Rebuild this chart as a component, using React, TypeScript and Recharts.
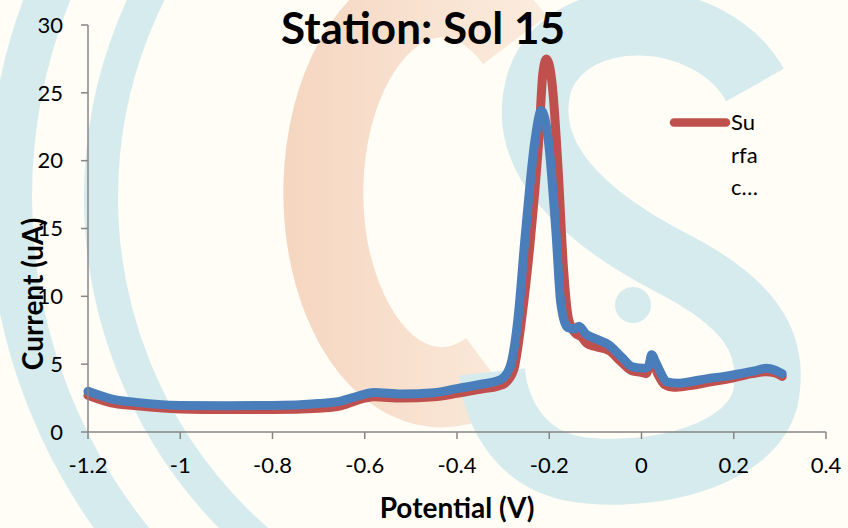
import { Line, LineChart, XAxis, YAxis } from 'recharts';

// Potential (V) / current (uA)
const surfacePotential = [
  -1.2, -1.15, -1.1, -1.0, -0.9, -0.8, -0.7, -0.65, -0.6, -0.58, -0.52, -0.45, -0.4, -0.35, -0.31,
  -0.297, -0.277, -0.26, -0.24, -0.222, -0.214, -0.206, -0.193, -0.181, -0.169, -0.158, -0.144,
  -0.13, -0.119, -0.1, -0.07, -0.045, -0.02, 0.0, 0.01, 0.022, 0.035, 0.05, 0.07, 0.1, 0.15, 0.2,
  0.24, 0.27, 0.29, 0.305,
];
const surfaceCurrent = [
  2.7, 2.15, 1.95, 1.7, 1.65, 1.65, 1.75, 1.95, 2.5, 2.6, 2.5, 2.6, 2.85, 3.15, 3.4,
  3.57, 4.6, 8.3, 14.5, 21.9, 26.4, 27.5, 25.4, 19.5, 12, 8.3, 7.3,
  7.0, 6.55, 6.3, 6.0, 5.2, 4.5, 4.4, 4.3, 5.3, 4.3, 3.5, 3.3, 3.4, 3.7, 4.0,
  4.3, 4.45, 4.35, 4.1,
];

const bottomPotential = [
  -1.2, -1.15, -1.1, -1.0, -0.9, -0.8, -0.7, -0.65, -0.62, -0.58, -0.52, -0.45, -0.4, -0.35, -0.305,
  -0.285, -0.268, -0.252, -0.231, -0.217, -0.202, -0.185, -0.175, -0.16, -0.145, -0.136, -0.12,
  -0.102, -0.07, -0.044, -0.019, 0.005, 0.015, 0.022, 0.03, 0.039, 0.055, 0.08, 0.105, 0.146, 0.18,
  0.214, 0.245, 0.271, 0.29, 0.305,
];
const bottomCurrent = [
  3.0, 2.45, 2.2, 1.96, 1.94, 1.95, 2.1, 2.3, 2.6, 2.92, 2.8, 2.9, 3.2, 3.5, 3.87,
  4.8, 8.3, 14.5, 21.5, 23.7, 21.5, 14.5, 9.5, 7.7, 7.6, 7.8, 7.2,
  6.9, 6.4, 5.55, 4.8, 4.7, 4.8, 5.7, 5.2, 4.55, 3.7, 3.6, 3.7, 3.95, 4.1,
  4.3, 4.5, 4.7, 4.55, 4.3,
];

const xTicks = [-1.2, -1, -0.8, -0.6, -0.4, -0.2, 0, 0.2, 0.4];
const yTicks = [0, 5, 10, 15, 20, 25, 30];
const legendLines = ['Su', 'rfa', 'c…'];

const FONT = 'Lato, "Open Sans", sans-serif';
const AXIS_GRAY = '#868686';
const RED = '#c0504d';
const BLUE = '#4a7ebb';

function toPoints(xs: number[], ys: number[]) {
  return xs.map((x, i) => ({ potential: x, current: ys[i] }));
}

// faint logo behind the plot
function Watermark() {
  const blue = '#d5ebee';
  return (
    <svg width={848} height={528} style={{ position: 'absolute', left: 0, top: 0 }}>
      <defs>
        <linearGradient id="orangeFade" gradientUnits="userSpaceOnUse" x1="290" y1="0" x2="530" y2="0">
          <stop offset="0" stopColor="#f5d6c1" />
          <stop offset="1" stopColor="#fbebdc" />
        </linearGradient>
      </defs>
      <rect width={848} height={528} fill="#fffdf5" />
      <circle cx={558} cy={197} r={548} fill="none" stroke={blue} strokeWidth={44} />
      <circle cx={558} cy={197} r={457} fill="none" stroke={blue} strokeWidth={34} />
      <path d="M 515 40 A 118 195 0 1 0 490 370" fill="none" stroke="url(#orangeFade)" strokeWidth={80} />
      <path
        d="M 755 85 C 710 5, 570 0, 540 80 C 515 160, 590 220, 670 262 C 745 300, 778 340, 765 400 C 745 465, 630 480, 570 468 C 525 458, 497 420, 492 372"
        fill="none"
        stroke={blue}
        strokeWidth={66}
      />
      <circle cx={633} cy={305} r={18} fill={blue} />
    </svg>
  );
}

export default function App() {
  const surface = toPoints(surfacePotential, surfaceCurrent);
  const bottom = toPoints(bottomPotential, bottomCurrent);
  const tick = { fill: '#000', fontSize: 22, fontFamily: FONT };

  return (
    <div style={{ position: 'relative', width: 848, height: 528, overflow: 'hidden' }}>
      <style>{'body{margin:0}'}</style>
      <Watermark />
      <div style={{ position: 'absolute', left: 0, top: 0 }}>
        <LineChart width={848} height={528} margin={{ top: 25, right: 22, bottom: 0, left: 0 }}>
          <XAxis
            type="number"
            dataKey="potential"
            domain={[-1.2, 0.4]}
            ticks={xTicks}
            tickFormatter={(v) => String(v)}
            height={96}
            tickSize={7}
            tickMargin={18}
            tick={tick}
            stroke={AXIS_GRAY}
            strokeWidth={1.5}
            allowDuplicatedCategory={false}
          />
          <YAxis
            type="number"
            domain={[0, 30]}
            ticks={yTicks}
            width={88}
            tickSize={7}
            tickMargin={18}
            tick={tick}
            stroke={AXIS_GRAY}
            strokeWidth={1.5}
          />
          <Line
            data={surface}
            dataKey="current"
            name="Surface"
            type="monotone"
            stroke={RED}
            strokeWidth={9}
            dot={false}
            strokeLinecap="round"
            strokeLinejoin="round"
            isAnimationActive={false}
          />
          <Line
            data={bottom}
            dataKey="current"
            name="Bottom"
            type="monotone"
            stroke={BLUE}
            strokeWidth={9}
            dot={false}
            strokeLinecap="round"
            strokeLinejoin="round"
            isAnimationActive={false}
          />
        </LineChart>
      </div>
      <svg width={848} height={528} style={{ position: 'absolute', left: 0, top: 0, pointerEvents: 'none' }}>
        <text x={423} y={44} textAnchor="middle" fontFamily={FONT} fontWeight={700} fontSize={44} fill="#000">
          Station: Sol 15
        </text>
        <text x={457} y={518} textAnchor="middle" fontFamily={FONT} fontWeight={700} fontSize={28} fill="#000">
          Potential (V)
        </text>
        <text
          x={43}
          y={294}
          textAnchor="middle"
          fontFamily={FONT}
          fontWeight={700}
          fontSize={28}
          fill="#000"
          transform="rotate(-90 43 294)"
        >
          Current (uA)
        </text>
        <line x1={674} y1={122.5} x2={726} y2={122.5} stroke={RED} strokeWidth={8.5} strokeLinecap="round" />
        {legendLines.map((t, i) => (
          <text key={t} x={731} y={130 + i * 32.5} fontFamily={FONT} fontSize={22} fill="#000">
            {t}
          </text>
        ))}
      </svg>
    </div>
  );
}
